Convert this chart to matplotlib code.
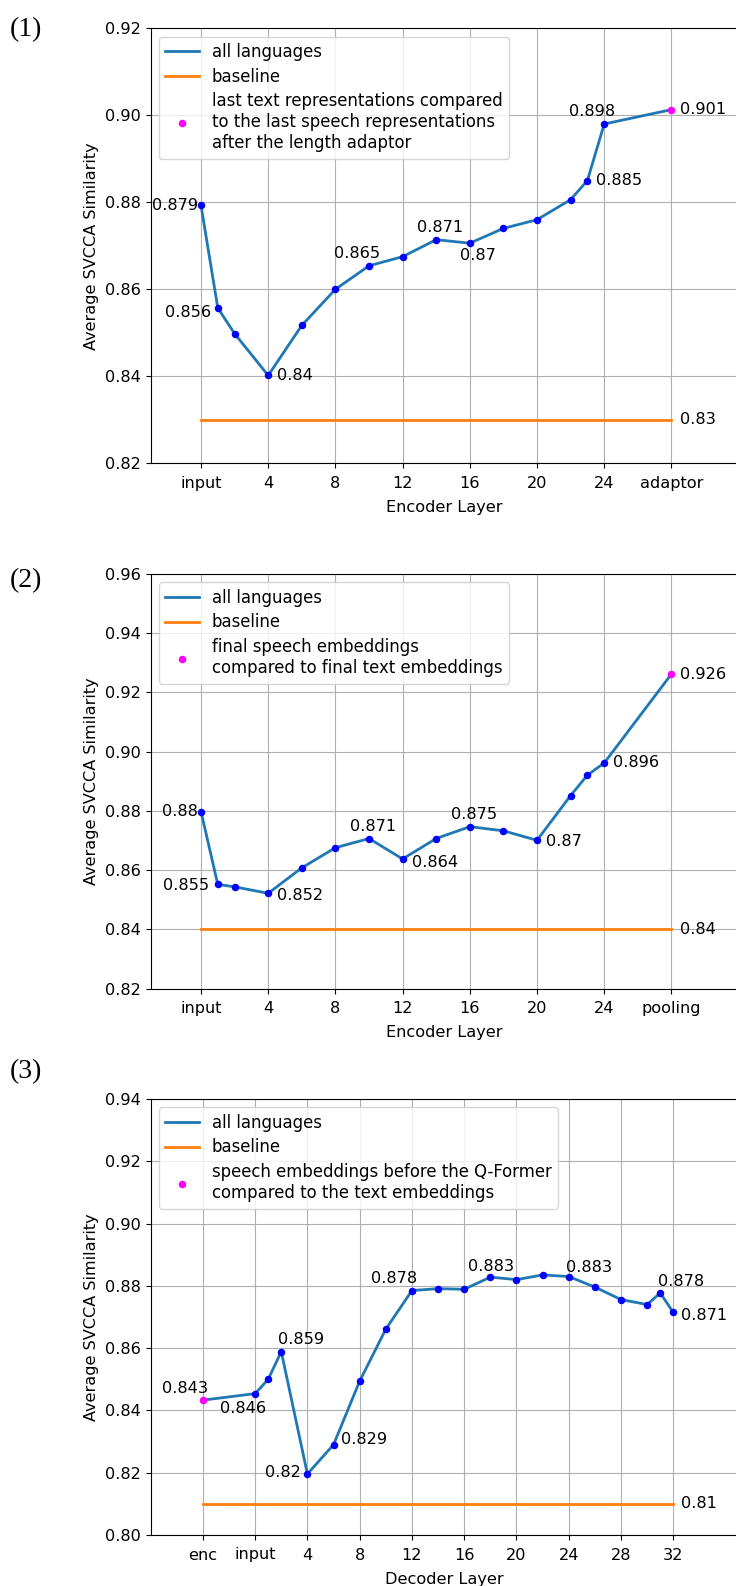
import matplotlib
matplotlib.use("Agg")
import matplotlib.pyplot as plt

# ---------------- data ----------------
# Panel 1
p1_layers = [0, 1, 2, 4, 6, 8, 10, 12, 14, 16, 18, 20, 22, 23, 24]
p1_values = [0.8793, 0.8557, 0.8498, 0.8402, 0.8517, 0.8600, 0.8654, 0.8675,
             0.8714, 0.8706, 0.8740, 0.8760, 0.8806, 0.8850, 0.8980]
p1_special_x = 28
p1_special_y = 0.9013
p1_baseline = 0.83
p1_xticks = [0, 4, 8, 12, 16, 20, 24, 28]
p1_xticklabels = ["input", "4", "8", "12", "16", "20", "24", "adaptor"]
p1_legend = ("last text representations compared\n"
             "to the last speech representations\nafter the length adaptor")

# Panel 2
p2_layers = [0, 1, 2, 4, 6, 8, 10, 12, 14, 16, 18, 20, 22, 23, 24]
p2_values = [0.8798, 0.8552, 0.8544, 0.8522, 0.8608, 0.8676, 0.8707, 0.8638,
             0.8707, 0.8747, 0.8733, 0.8701, 0.8852, 0.8921, 0.8962]
p2_special_x = 28
p2_special_y = 0.9262
p2_baseline = 0.84
p2_xticks = [0, 4, 8, 12, 16, 20, 24, 28]
p2_xticklabels = ["input", "4", "8", "12", "16", "20", "24", "pooling"]
p2_legend = "final speech embeddings\ncompared to final text embeddings"

# Panel 3
p3_layers = [0, 1, 2, 4, 6, 8, 10, 12, 14, 16, 18, 20, 22, 24, 26, 28, 30, 31, 32]
p3_values = [0.8454, 0.8500, 0.8589, 0.8196, 0.8290, 0.8494, 0.8661, 0.8785,
             0.8791, 0.8789, 0.8828, 0.8820, 0.8835, 0.8830, 0.8796, 0.8756,
             0.8740, 0.8777, 0.8715]
p3_special_x = -4
p3_special_y = 0.8433
p3_baseline = 0.81
p3_xticks = [-4, 0, 4, 8, 12, 16, 20, 24, 28, 32]
p3_xticklabels = ["enc", "input", "4", "8", "12", "16", "20", "24", "28", "32"]
p3_legend = "speech embeddings before the Q-Former\ncompared to the text embeddings"

# annotations: (x, y, text, ha, dx_px, dy_px)
p1_annot = [
    (0, 0.8793, "0.879", "right", -3, 0),
    (1, 0.8557, "0.856", "right", -7, -4),
    (4, 0.8402, "0.84", "left", 9, 0),
    (10, 0.8654, "0.865", "center", -12, 12),
    (14, 0.8714, "0.871", "center", 4, 12),
    (16, 0.8706, "0.87", "center", 8, -12),
    (23, 0.8850, "0.885", "left", 9, 0),
    (24, 0.8980, "0.898", "center", -12, 12),
    (28, 0.9013, "0.901", "left", 9, 0),
    (28, 0.83, "0.83", "left", 9, 0),
]
p2_annot = [
    (0, 0.8798, "0.88", "right", -3, 0),
    (1, 0.8552, "0.855", "right", -9, -1),
    (4, 0.8522, "0.852", "left", 9, -2),
    (10, 0.8707, "0.871", "center", 4, 12),
    (12, 0.8638, "0.864", "left", 9, -4),
    (16, 0.8747, "0.875", "center", 4, 12),
    (20, 0.8701, "0.87", "left", 9, -1),
    (24, 0.8962, "0.896", "left", 9, 0),
    (28, 0.9262, "0.926", "left", 9, 0),
    (28, 0.84, "0.84", "left", 9, 0),
]
p3_annot = [
    (-4, 0.8433, "0.843", "center", -18, 12),
    (0, 0.8454, "0.846", "center", -12, -15),
    (2, 0.8589, "0.859", "center", 20, 12),
    (4, 0.8196, "0.82", "right", -7, 1),
    (6, 0.8290, "0.829", "left", 7, 5),
    (12, 0.8785, "0.878", "center", -18, 12),
    (18, 0.8828, "0.883", "center", 1, 11),
    (24, 0.8830, "0.883", "center", 20, 9),
    (31, 0.8777, "0.878", "center", 21, 12),
    (32, 0.8715, "0.871", "left", 8, -3),
    (32, 0.81, "0.81", "left", 8, 0),
]

FS = 11.6
LFS = 11.9
W, H = 736, 1586
fig = plt.figure(figsize=(W / 100, H / 100), dpi=100)


def make_panel(top_px, bottom_px, xlim, ylim, yticks,
               layers, values, sx, sy, base, xticks, xticklabels,
               legend_label, annots, xlabel, panel_label, label_y_px):
    left_px = 150.6
    width_px = 588
    ax = fig.add_axes([left_px / W, (H - bottom_px) / H,
                       width_px / W, (bottom_px - top_px) / H])
    ax.set_xlim(*xlim)
    ax.set_ylim(*ylim)
    ax.set_yticks(yticks)
    ax.set_yticklabels([f"{t:.2f}" for t in yticks])
    ax.set_xticks(xticks)
    ax.set_xticklabels(xticklabels)
    ax.tick_params(labelsize=FS)
    ax.tick_params(axis="x", pad=5.5)
    ax.grid(True, color="#b0b0b0", linewidth=0.8)
    ax.set_axisbelow(True)

    # line through all points (including special point)
    if sx < layers[0]:
        lx = [sx] + list(layers)
        ly = [sy] + list(values)
    else:
        lx = list(layers) + [sx]
        ly = list(values) + [sy]
    ax.plot(lx, ly, color="#1f77b4", linewidth=2, label="all languages", zorder=2)
    ax.plot([lx[0], lx[-1]], [base, base], color="#ff7f0e", linewidth=2,
            label="baseline", zorder=2)
    ax.plot(layers, values, linestyle="none", marker="o", markersize=4.4,
            color="blue", zorder=3)
    ax.plot([sx], [sy], linestyle="none", marker="o", markersize=4.4,
            color="magenta", label=legend_label, zorder=3)

    for (x, y, t, ha, dx, dy) in annots:
        ax.annotate(t, xy=(x, y), xytext=(dx, dy), textcoords="offset pixels",
                    ha=ha, va="center", fontsize=FS)

    ax.legend(loc="upper left", fontsize=LFS, framealpha=0.8,
              labelspacing=0.4)
    ax.set_ylabel("Average SVCCA Similarity", fontsize=FS)
    ax.set_xlabel(xlabel, fontsize=FS, labelpad=6.5)
    ax.spines["right"].set_visible(False)
    fig.text(10 / W, 1 - label_y_px / H, panel_label, ha="left", va="center",
             fontsize=20, family=["Liberation Serif", "DejaVu Serif"])
    return ax


make_panel(28.3, 463.3, (-3, 32), (0.82, 0.92),
           [0.82, 0.84, 0.86, 0.88, 0.90, 0.92],
           p1_layers, p1_values, p1_special_x, p1_special_y, p1_baseline,
           p1_xticks, p1_xticklabels, p1_legend, p1_annot,
           "Encoder Layer", "(1)", 30)

make_panel(574, 988.7, (-3, 32), (0.82, 0.96),
           [0.82, 0.84, 0.86, 0.88, 0.90, 0.92, 0.94, 0.96],
           p2_layers, p2_values, p2_special_x, p2_special_y, p2_baseline,
           p2_xticks, p2_xticklabels, p2_legend, p2_annot,
           "Encoder Layer", "(2)", 581)

make_panel(1099, 1535, (-8, 37), (0.80, 0.94),
           [0.80, 0.82, 0.84, 0.86, 0.88, 0.90, 0.92, 0.94],
           p3_layers, p3_values, p3_special_x, p3_special_y, p3_baseline,
           p3_xticks, p3_xticklabels, p3_legend, p3_annot,
           "Decoder Layer", "(3)", 1072)

fig.savefig("out.png", dpi=100)
